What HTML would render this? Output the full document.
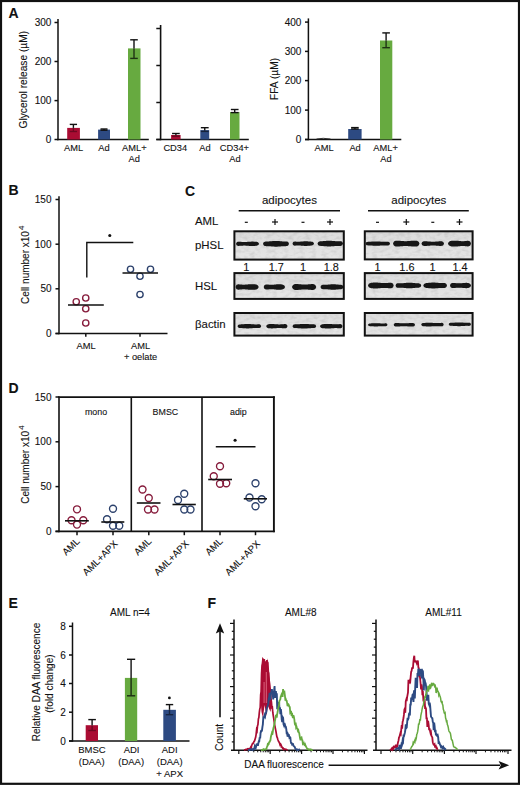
<!DOCTYPE html>
<html><head><meta charset="utf-8"><style>
html,body{margin:0;padding:0;background:#fff;}
svg{display:block;}
text{font-family:"Liberation Sans",sans-serif;fill:#111;stroke:#111;stroke-width:0.1px;}
</style></head><body>
<svg width="520" height="785" viewBox="0 0 520 785">
<defs>
<linearGradient id="gg" x1="0" y1="0" x2="0" y2="1"><stop offset="0" stop-color="#dcdcdc"/><stop offset="1" stop-color="#e6e6e6"/></linearGradient>
<filter id="nz" x="0" y="0" width="100%" height="100%"><feTurbulence type="fractalNoise" baseFrequency="0.18 0.3" numOctaves="2" seed="4"/><feColorMatrix type="matrix" values="0 0 0 0 0  0 0 0 0 0  0 0 0 0 0  2.2 0 0 0 -0.9"/></filter>
<filter id="bl" x="-20%" y="-100%" width="140%" height="300%"><feGaussianBlur stdDeviation="0.55"/></filter>
</defs>
<rect x="0" y="0" width="520" height="785" fill="#fff"/>
<rect x="1" y="1" width="518" height="782.8" fill="none" stroke="#111" stroke-width="2.2"/>
<text x="8.5" y="17.8" font-size="14" text-anchor="start" font-weight="bold" >A</text>
<line x1="58" y1="19" x2="58" y2="140.2" stroke="#111" stroke-width="1.5"/>
<line x1="54.5" y1="139.5" x2="58" y2="139.5" stroke="#111" stroke-width="1.5"/>
<text x="51.4" y="143.0" font-size="10" text-anchor="end" font-weight="normal" >0</text>
<line x1="54.5" y1="100.6" x2="58" y2="100.6" stroke="#111" stroke-width="1.5"/>
<text x="51.4" y="104.1" font-size="10" text-anchor="end" font-weight="normal" >100</text>
<line x1="54.5" y1="61.5" x2="58" y2="61.5" stroke="#111" stroke-width="1.5"/>
<text x="51.4" y="65.0" font-size="10" text-anchor="end" font-weight="normal" >200</text>
<line x1="54.5" y1="22.5" x2="58" y2="22.5" stroke="#111" stroke-width="1.5"/>
<text x="51.4" y="26.0" font-size="10" text-anchor="end" font-weight="normal" >300</text>
<line x1="57.3" y1="139.5" x2="148.8" y2="139.5" stroke="#111" stroke-width="1.5"/>
<rect x="67.2" y="127.9" width="12.7" height="11.6" fill="#aa0c33"/>
<line x1="73.4" y1="124.4" x2="73.4" y2="127.9" stroke="#111" stroke-width="1.4"/>
<line x1="69.75" y1="124.4" x2="77.05000000000001" y2="124.4" stroke="#111" stroke-width="1.4"/>
<g opacity="0.35">
<line x1="73.4" y1="127.9" x2="73.4" y2="131.5" stroke="#000" stroke-width="1.4"/>
<line x1="69.75" y1="131.5" x2="77.05000000000001" y2="131.5" stroke="#000" stroke-width="1.4"/>
</g>
<rect x="98.1" y="129.6" width="11.9" height="9.9" fill="#2d4a82"/>
<line x1="104" y1="129.0" x2="104" y2="130.2" stroke="#111" stroke-width="1.4"/>
<line x1="100.5" y1="129.0" x2="107.5" y2="129.0" stroke="#111" stroke-width="1.4"/>
<line x1="100.5" y1="130.2" x2="107.5" y2="130.2" stroke="#111" stroke-width="1.4"/>
<rect x="128" y="48.4" width="12.5" height="91.1" fill="#67aa40"/>
<line x1="134" y1="39.8" x2="134" y2="48.4" stroke="#111" stroke-width="1.4"/>
<line x1="130.2" y1="39.8" x2="137.8" y2="39.8" stroke="#111" stroke-width="1.4"/>
<g opacity="0.7">
<line x1="134" y1="48.4" x2="134" y2="58.4" stroke="#000" stroke-width="1.4"/>
<line x1="130.2" y1="58.4" x2="137.8" y2="58.4" stroke="#000" stroke-width="1.4"/>
</g>
<text x="73.5" y="151.2" font-size="9.3" text-anchor="middle" font-weight="normal" >AML</text>
<text x="104" y="151.2" font-size="9.3" text-anchor="middle" font-weight="normal" >Ad</text>
<text x="134.3" y="151.2" font-size="9.3" text-anchor="middle" font-weight="normal" >AML+</text>
<text x="134.3" y="162.4" font-size="9.3" text-anchor="middle" font-weight="normal" >Ad</text>
<text x="26.6" y="79.7" font-size="10.2" text-anchor="middle" transform="rotate(-90 26.6 79.7)">Glycerol release (µM)</text>
<line x1="160.6" y1="25" x2="160.6" y2="140.2" stroke="#111" stroke-width="1.6"/>
<line x1="156.3" y1="139.5" x2="160.6" y2="139.5" stroke="#111" stroke-width="1.5"/>
<line x1="156.3" y1="102.5" x2="160.6" y2="102.5" stroke="#111" stroke-width="1.5"/>
<line x1="156.3" y1="65.5" x2="160.6" y2="65.5" stroke="#111" stroke-width="1.5"/>
<line x1="156.3" y1="28.5" x2="160.6" y2="28.5" stroke="#111" stroke-width="1.5"/>
<line x1="156.3" y1="139.5" x2="248.8" y2="139.5" stroke="#111" stroke-width="1.5"/>
<rect x="171.1" y="135" width="9.5" height="4.5" fill="#aa0c33"/>
<line x1="175.9" y1="133.5" x2="175.9" y2="135" stroke="#111" stroke-width="1.4"/>
<line x1="172.05" y1="133.5" x2="179.75" y2="133.5" stroke="#111" stroke-width="1.4"/>
<g opacity="0.4">
<line x1="175.9" y1="135" x2="175.9" y2="136.2" stroke="#000" stroke-width="1.4"/>
<line x1="172.05" y1="136.2" x2="179.75" y2="136.2" stroke="#000" stroke-width="1.4"/>
</g>
<rect x="200.3" y="130.1" width="8.9" height="9.4" fill="#2d4a82"/>
<line x1="204.75" y1="127.7" x2="204.75" y2="130.1" stroke="#111" stroke-width="1.4"/>
<line x1="200.85" y1="127.7" x2="208.65" y2="127.7" stroke="#111" stroke-width="1.4"/>
<g opacity="0.55">
<line x1="204.75" y1="130.1" x2="204.75" y2="131.4" stroke="#000" stroke-width="1.4"/>
<line x1="200.85" y1="131.4" x2="208.65" y2="131.4" stroke="#000" stroke-width="1.4"/>
</g>
<rect x="230" y="112" width="9.5" height="27.5" fill="#67aa40"/>
<line x1="234.7" y1="109.5" x2="234.7" y2="112.6" stroke="#111" stroke-width="1.4"/>
<line x1="230.85" y1="109.5" x2="238.54999999999998" y2="109.5" stroke="#111" stroke-width="1.4"/>
<line x1="230.85" y1="112.6" x2="238.54999999999998" y2="112.6" stroke="#111" stroke-width="1.4"/>
<text x="175.3" y="151.2" font-size="9.3" text-anchor="middle" font-weight="normal" >CD34</text>
<text x="205" y="151.2" font-size="9.3" text-anchor="middle" font-weight="normal" >Ad</text>
<text x="234.4" y="151.2" font-size="9.3" text-anchor="middle" font-weight="normal" >CD34+</text>
<text x="235" y="162.4" font-size="9.3" text-anchor="middle" font-weight="normal" >Ad</text>
<line x1="308.4" y1="18.4" x2="308.4" y2="140.2" stroke="#111" stroke-width="1.5"/>
<line x1="305" y1="139.5" x2="308.6" y2="139.5" stroke="#111" stroke-width="1.5"/>
<text x="301.4" y="143.0" font-size="10" text-anchor="end" font-weight="normal" >0</text>
<line x1="305" y1="110.1" x2="308.6" y2="110.1" stroke="#111" stroke-width="1.5"/>
<text x="301.4" y="113.6" font-size="10" text-anchor="end" font-weight="normal" >100</text>
<line x1="305" y1="80.6" x2="308.6" y2="80.6" stroke="#111" stroke-width="1.5"/>
<text x="301.4" y="84.1" font-size="10" text-anchor="end" font-weight="normal" >200</text>
<line x1="305" y1="51.4" x2="308.6" y2="51.4" stroke="#111" stroke-width="1.5"/>
<text x="301.4" y="54.9" font-size="10" text-anchor="end" font-weight="normal" >300</text>
<line x1="305" y1="22.1" x2="308.6" y2="22.1" stroke="#111" stroke-width="1.5"/>
<text x="301.4" y="25.6" font-size="10" text-anchor="end" font-weight="normal" >400</text>
<line x1="305" y1="139.5" x2="401.3" y2="139.5" stroke="#111" stroke-width="1.5"/>
<path d="M316.5,139 Q323,137.6 330.5,139" stroke="#222" stroke-width="0.9" fill="none"/>
<rect x="348.2" y="129" width="13.4" height="10.5" fill="#2d4a82"/>
<line x1="354.9" y1="127.6" x2="354.9" y2="129" stroke="#111" stroke-width="1.4"/>
<line x1="351.09999999999997" y1="127.6" x2="358.7" y2="127.6" stroke="#111" stroke-width="1.4"/>
<line x1="351.09999999999997" y1="129" x2="358.7" y2="129" stroke="#111" stroke-width="1.4"/>
<rect x="380" y="40.5" width="12.3" height="99" fill="#67aa40"/>
<line x1="386.1" y1="32.9" x2="386.1" y2="40.5" stroke="#111" stroke-width="1.4"/>
<line x1="382.3" y1="32.9" x2="389.90000000000003" y2="32.9" stroke="#111" stroke-width="1.4"/>
<g opacity="0.7">
<line x1="386.1" y1="40.5" x2="386.1" y2="47.7" stroke="#000" stroke-width="1.4"/>
<line x1="382.3" y1="47.7" x2="389.90000000000003" y2="47.7" stroke="#000" stroke-width="1.4"/>
</g>
<text x="324" y="151.2" font-size="9.3" text-anchor="middle" font-weight="normal" >AML</text>
<text x="355.1" y="151.2" font-size="9.3" text-anchor="middle" font-weight="normal" >Ad</text>
<text x="385.6" y="151.2" font-size="9.3" text-anchor="middle" font-weight="normal" >AML+</text>
<text x="386" y="162.4" font-size="9.3" text-anchor="middle" font-weight="normal" >Ad</text>
<text x="277.5" y="79" font-size="10.2" text-anchor="middle" transform="rotate(-90 277.5 79)">FFA (µM)</text>
<text x="8.6" y="195.4" font-size="14" text-anchor="start" font-weight="bold" >B</text>
<line x1="59" y1="196.2" x2="59" y2="334.2" stroke="#111" stroke-width="1.5"/>
<line x1="55.5" y1="333.5" x2="59" y2="333.5" stroke="#111" stroke-width="1.5"/>
<text x="51.5" y="337.0" font-size="10" text-anchor="end" font-weight="normal" >0</text>
<line x1="55.5" y1="288.8" x2="59" y2="288.8" stroke="#111" stroke-width="1.5"/>
<text x="51.5" y="292.3" font-size="10" text-anchor="end" font-weight="normal" >50</text>
<line x1="55.5" y1="244.2" x2="59" y2="244.2" stroke="#111" stroke-width="1.5"/>
<text x="51.5" y="247.7" font-size="10" text-anchor="end" font-weight="normal" >100</text>
<line x1="55.5" y1="199.5" x2="59" y2="199.5" stroke="#111" stroke-width="1.5"/>
<text x="51.5" y="203.0" font-size="10" text-anchor="end" font-weight="normal" >150</text>
<line x1="55.5" y1="333.5" x2="167.5" y2="333.5" stroke="#111" stroke-width="1.5"/>
<line x1="85.8" y1="333.5" x2="85.8" y2="336.8" stroke="#111" stroke-width="1.5"/>
<line x1="140" y1="333.5" x2="140" y2="336.8" stroke="#111" stroke-width="1.5"/>
<circle cx="76.25" cy="301.75" r="3.15" fill="none" stroke="#861b3b" stroke-width="1.35"/>
<circle cx="85.75" cy="298" r="3.15" fill="none" stroke="#861b3b" stroke-width="1.35"/>
<circle cx="85.75" cy="308.75" r="3.15" fill="none" stroke="#861b3b" stroke-width="1.35"/>
<circle cx="85.75" cy="323" r="3.15" fill="none" stroke="#861b3b" stroke-width="1.35"/>
<line x1="68" y1="305" x2="103.8" y2="305" stroke="#111" stroke-width="1.6"/>
<circle cx="130.5" cy="269.25" r="3.15" fill="none" stroke="#2c416c" stroke-width="1.35"/>
<circle cx="140" cy="276.25" r="3.15" fill="none" stroke="#2c416c" stroke-width="1.35"/>
<circle cx="150.5" cy="269.25" r="3.15" fill="none" stroke="#2c416c" stroke-width="1.35"/>
<circle cx="140" cy="294.5" r="3.15" fill="none" stroke="#2c416c" stroke-width="1.35"/>
<line x1="122.5" y1="273" x2="158" y2="273" stroke="#111" stroke-width="1.6"/>
<polyline points="86.8,277.5 86.8,242.5 133.3,242.5" fill="none" stroke="#111" stroke-width="1.4"/>
<circle cx="109.8" cy="235.5" r="1.55" fill="#111"/>
<text x="86" y="349.3" font-size="9.3" text-anchor="middle" font-weight="normal" >AML</text>
<text x="140.6" y="349.3" font-size="9.3" text-anchor="middle" font-weight="normal" >AML</text>
<text x="140.6" y="360.3" font-size="9.3" text-anchor="middle" font-weight="normal" >+ oelate</text>
<text x="28.6" y="303.9" font-size="10" transform="rotate(-90 28.6 303.9)">Cell number x10<tspan font-size="7.8" dx="1.2" dy="-4.6">4</tspan></text>
<text x="185.1" y="195.9" font-size="14" text-anchor="start" font-weight="bold" >C</text>
<text x="195" y="225.2" font-size="11.4" text-anchor="start" font-weight="normal" >AML</text>
<text x="195" y="248.5" font-size="11.4" text-anchor="start" font-weight="normal" >pHSL</text>
<text x="195" y="290.2" font-size="11.4" text-anchor="start" font-weight="normal" >HSL</text>
<text x="195" y="327.8" font-size="11.4" text-anchor="start" font-weight="normal" >βactin</text>
<text x="289.4" y="204.4" font-size="11.5" text-anchor="middle" font-weight="normal" >adipocytes</text>
<line x1="238.7" y1="210.8" x2="340" y2="210.8" stroke="#111" stroke-width="1.6"/>
<text x="418.8" y="204.4" font-size="11.5" text-anchor="middle" font-weight="normal" >adipocytes</text>
<line x1="368" y1="210.8" x2="468.8" y2="210.8" stroke="#111" stroke-width="1.6"/>
<line x1="244.8" y1="222.3" x2="247.8" y2="222.3" stroke="#111" stroke-width="1.2"/>
<line x1="272" y1="222" x2="278" y2="222" stroke="#111" stroke-width="1.2"/>
<line x1="275" y1="219" x2="275" y2="225" stroke="#111" stroke-width="1.2"/>
<line x1="301.5" y1="222.3" x2="304.5" y2="222.3" stroke="#111" stroke-width="1.2"/>
<line x1="327" y1="222" x2="333" y2="222" stroke="#111" stroke-width="1.2"/>
<line x1="330" y1="219" x2="330" y2="225" stroke="#111" stroke-width="1.2"/>
<line x1="376.0" y1="222.3" x2="379.0" y2="222.3" stroke="#111" stroke-width="1.2"/>
<line x1="403.3" y1="222" x2="409.3" y2="222" stroke="#111" stroke-width="1.2"/>
<line x1="406.3" y1="219" x2="406.3" y2="225" stroke="#111" stroke-width="1.2"/>
<line x1="431.3" y1="222.3" x2="434.3" y2="222.3" stroke="#111" stroke-width="1.2"/>
<line x1="456.5" y1="222" x2="462.5" y2="222" stroke="#111" stroke-width="1.2"/>
<line x1="459.5" y1="219" x2="459.5" y2="225" stroke="#111" stroke-width="1.2"/>
<rect x="234.4" y="231.3" width="109.4" height="28.30000000000001" fill="url(#gg)"/>
<rect x="234.4" y="231.3" width="109.4" height="28.30000000000001" fill="#000" filter="url(#nz)" opacity="0.08"/>
<rect x="234.4" y="231.3" width="109.4" height="28.30000000000001" fill="none" stroke="#111" stroke-width="2"/>
<polygon points="236.00,243.80 236.57,242.42 237.15,241.99 237.72,241.76 238.30,241.68 238.88,241.70 239.45,241.74 240.03,241.79 240.60,241.83 241.18,241.87 241.75,241.91 242.32,241.95 242.90,241.97 243.47,241.99 244.05,242.00 244.62,242.00 245.20,241.99 245.78,241.96 246.35,241.93 246.93,241.90 247.50,241.86 248.07,241.81 248.65,241.77 249.22,241.72 249.80,241.69 250.38,241.65 250.95,241.63 251.53,241.61 252.10,241.60 252.68,241.60 253.25,241.62 253.82,241.64 254.40,241.67 254.97,241.70 255.55,241.74 256.12,241.79 256.70,241.85 257.27,241.99 257.85,242.24 258.43,242.64 259.00,243.80 259.00,243.80 258.43,244.96 257.85,245.36 257.27,245.61 256.70,245.75 256.12,245.81 255.55,245.86 254.97,245.90 254.40,245.93 253.82,245.96 253.25,245.98 252.68,246.00 252.10,246.00 251.53,245.99 250.95,245.97 250.38,245.95 249.80,245.91 249.22,245.88 248.65,245.83 248.07,245.79 247.50,245.74 246.93,245.70 246.35,245.67 245.78,245.64 245.20,245.61 244.62,245.60 244.05,245.60 243.47,245.61 242.90,245.63 242.32,245.65 241.75,245.69 241.18,245.73 240.60,245.77 240.03,245.81 239.45,245.86 238.88,245.90 238.30,245.92 237.72,245.84 237.15,245.61 236.57,245.18 236.00,243.80" fill="#141414" filter="url(#bl)"/>
<polygon points="263.00,243.80 263.65,242.34 264.30,241.89 264.95,241.64 265.60,241.50 266.25,241.46 266.90,241.46 267.55,241.45 268.20,241.43 268.85,241.39 269.50,241.35 270.15,241.30 270.80,241.24 271.45,241.18 272.10,241.13 272.75,241.07 273.40,241.03 274.05,240.99 274.70,240.96 275.35,240.94 276.00,240.94 276.65,240.95 277.30,240.97 277.95,241.01 278.60,241.05 279.25,241.10 279.90,241.16 280.55,241.22 281.20,241.28 281.85,241.33 282.50,241.38 283.15,241.41 283.80,241.44 284.45,241.46 285.10,241.46 285.75,241.45 286.40,241.49 287.05,241.62 287.70,241.87 288.35,242.32 289.00,243.80 289.00,243.80 288.35,245.28 287.70,245.73 287.05,245.98 286.40,246.11 285.75,246.15 285.10,246.14 284.45,246.14 283.80,246.16 283.15,246.19 282.50,246.22 281.85,246.27 281.20,246.32 280.55,246.38 279.90,246.44 279.25,246.50 278.60,246.55 277.95,246.59 277.30,246.63 276.65,246.65 276.00,246.66 275.35,246.66 274.70,246.64 274.05,246.61 273.40,246.57 272.75,246.53 272.10,246.47 271.45,246.42 270.80,246.36 270.15,246.30 269.50,246.25 268.85,246.21 268.20,246.17 267.55,246.15 266.90,246.14 266.25,246.14 265.60,246.10 264.95,245.96 264.30,245.71 263.65,245.26 263.00,243.80" fill="#141414" filter="url(#bl)"/>
<polygon points="292.50,243.60 293.04,242.28 293.57,241.87 294.11,241.66 294.65,241.56 295.19,241.56 295.73,241.61 296.26,241.64 296.80,241.67 297.34,241.70 297.88,241.71 298.41,241.71 298.95,241.70 299.49,241.68 300.02,241.65 300.56,241.62 301.10,241.57 301.64,241.53 302.18,241.48 302.71,241.43 303.25,241.39 303.79,241.35 304.32,241.32 304.86,241.30 305.40,241.29 305.94,241.29 306.48,241.30 307.01,241.32 307.55,241.35 308.09,241.39 308.62,241.43 309.16,241.47 309.70,241.52 310.24,241.57 310.77,241.61 311.31,241.65 311.85,241.72 312.39,241.86 312.93,242.10 313.46,242.47 314.00,243.60 314.00,243.60 313.46,244.73 312.93,245.10 312.39,245.34 311.85,245.48 311.31,245.55 310.77,245.59 310.24,245.63 309.70,245.68 309.16,245.73 308.62,245.77 308.09,245.81 307.55,245.85 307.01,245.88 306.48,245.90 305.94,245.91 305.40,245.91 304.86,245.90 304.32,245.88 303.79,245.85 303.25,245.81 302.71,245.77 302.18,245.72 301.64,245.67 301.10,245.63 300.56,245.58 300.02,245.55 299.49,245.52 298.95,245.50 298.41,245.49 297.88,245.49 297.34,245.50 296.80,245.53 296.26,245.56 295.73,245.59 295.19,245.64 294.65,245.64 294.11,245.54 293.57,245.33 293.04,244.92 292.50,243.60" fill="#141414" filter="url(#bl)"/>
<polygon points="317.50,243.60 318.14,242.20 318.77,241.75 319.41,241.49 320.05,241.33 320.69,241.26 321.32,241.24 321.96,241.21 322.60,241.17 323.24,241.12 323.88,241.06 324.51,241.00 325.15,240.95 325.79,240.89 326.43,240.84 327.06,240.80 327.70,240.77 328.34,240.75 328.98,240.74 329.61,240.75 330.25,240.76 330.89,240.80 331.52,240.84 332.16,240.89 332.80,240.94 333.44,241.00 334.07,241.06 334.71,241.11 335.35,241.16 335.99,241.20 336.62,241.23 337.26,241.25 337.90,241.26 338.54,241.25 339.18,241.23 339.81,241.21 340.45,241.24 341.09,241.36 341.73,241.61 342.36,242.08 343.00,243.60 343.00,243.60 342.36,245.12 341.73,245.59 341.09,245.84 340.45,245.96 339.81,245.99 339.18,245.97 338.54,245.95 337.90,245.94 337.26,245.95 336.62,245.97 335.99,246.00 335.35,246.04 334.71,246.09 334.07,246.14 333.44,246.20 332.80,246.26 332.16,246.31 331.52,246.36 330.89,246.40 330.25,246.44 329.61,246.45 328.98,246.46 328.34,246.45 327.70,246.43 327.06,246.40 326.43,246.36 325.79,246.31 325.15,246.25 324.51,246.20 323.88,246.14 323.24,246.08 322.60,246.03 321.96,245.99 321.32,245.96 320.69,245.94 320.05,245.87 319.41,245.71 318.77,245.45 318.14,245.00 317.50,243.60" fill="#141414" filter="url(#bl)"/>
<rect x="364.8" y="231.3" width="107.80000000000001" height="28.099999999999966" fill="url(#gg)"/>
<rect x="364.8" y="231.3" width="107.80000000000001" height="28.099999999999966" fill="#000" filter="url(#nz)" opacity="0.08"/>
<rect x="364.8" y="231.3" width="107.80000000000001" height="28.099999999999966" fill="none" stroke="#111" stroke-width="2"/>
<polygon points="365.50,243.60 366.11,242.42 366.73,242.06 367.34,241.88 367.95,241.80 368.56,241.79 369.18,241.77 369.79,241.74 370.40,241.71 371.01,241.66 371.62,241.62 372.24,241.58 372.85,241.53 373.46,241.49 374.07,241.46 374.69,241.43 375.30,241.41 375.91,241.40 376.52,241.40 377.14,241.41 377.75,241.43 378.36,241.46 378.98,241.50 379.59,241.54 380.20,241.58 380.81,241.63 381.43,241.67 382.04,241.71 382.65,241.74 383.26,241.77 383.88,241.79 384.49,241.80 385.10,241.80 385.71,241.79 386.32,241.77 386.94,241.74 387.55,241.71 388.16,241.75 388.77,241.92 389.39,242.29 390.00,243.60 390.00,243.60 389.39,244.91 388.77,245.28 388.16,245.45 387.55,245.49 386.94,245.46 386.32,245.43 385.71,245.41 385.10,245.40 384.49,245.40 383.88,245.41 383.26,245.43 382.65,245.46 382.04,245.49 381.43,245.53 380.81,245.57 380.20,245.62 379.59,245.66 378.98,245.70 378.36,245.74 377.75,245.77 377.14,245.79 376.52,245.80 375.91,245.80 375.30,245.79 374.69,245.77 374.07,245.74 373.46,245.71 372.85,245.67 372.24,245.62 371.62,245.58 371.01,245.54 370.40,245.49 369.79,245.46 369.18,245.43 368.56,245.41 367.95,245.40 367.34,245.32 366.73,245.14 366.11,244.78 365.50,243.60" fill="#141414" filter="url(#bl)"/>
<polygon points="393.00,243.60 393.66,241.93 394.32,241.33 394.99,240.95 395.65,240.73 396.31,240.63 396.98,240.63 397.64,240.65 398.30,240.68 398.96,240.73 399.62,240.78 400.29,240.83 400.95,240.89 401.61,240.95 402.27,241.01 402.94,241.06 403.60,241.11 404.26,241.14 404.93,241.16 405.59,241.17 406.25,241.16 406.91,241.15 407.57,241.12 408.24,241.07 408.90,241.02 409.56,240.97 410.23,240.91 410.89,240.85 411.55,240.79 412.21,240.74 412.88,240.69 413.54,240.66 414.20,240.64 414.86,240.63 415.52,240.64 416.19,240.66 416.85,240.78 417.51,241.01 418.18,241.39 418.84,241.98 419.50,243.60 419.50,243.60 418.84,245.22 418.18,245.81 417.51,246.19 416.85,246.42 416.19,246.54 415.52,246.56 414.86,246.57 414.20,246.56 413.54,246.54 412.88,246.51 412.21,246.46 411.55,246.41 410.89,246.35 410.23,246.29 409.56,246.23 408.90,246.18 408.24,246.13 407.57,246.08 406.91,246.05 406.25,246.04 405.59,246.03 404.93,246.04 404.26,246.06 403.60,246.09 402.94,246.14 402.27,246.19 401.61,246.25 400.95,246.31 400.29,246.37 399.62,246.42 398.96,246.47 398.30,246.52 397.64,246.55 396.98,246.57 396.31,246.57 395.65,246.47 394.99,246.25 394.32,245.87 393.66,245.27 393.00,243.60" fill="#141414" filter="url(#bl)"/>
<polygon points="421.50,243.60 422.06,242.28 422.62,241.81 423.19,241.53 423.75,241.36 424.31,241.30 424.88,241.29 425.44,241.29 426.00,241.30 426.56,241.32 427.12,241.35 427.69,241.38 428.25,241.43 428.81,241.47 429.38,241.52 429.94,241.57 430.50,241.61 431.06,241.65 431.62,241.68 432.19,241.70 432.75,241.71 433.31,241.71 433.88,241.70 434.44,241.68 435.00,241.65 435.56,241.61 436.12,241.57 436.69,241.53 437.25,241.48 437.81,241.43 438.38,241.39 438.94,241.35 439.50,241.32 440.06,241.30 440.62,241.29 441.19,241.29 441.75,241.34 442.31,241.49 442.88,241.78 443.44,242.25 444.00,243.60 444.00,243.60 443.44,244.95 442.88,245.42 442.31,245.71 441.75,245.86 441.19,245.91 440.62,245.91 440.06,245.90 439.50,245.88 438.94,245.85 438.38,245.81 437.81,245.77 437.25,245.72 436.69,245.67 436.12,245.63 435.56,245.59 435.00,245.55 434.44,245.52 433.88,245.50 433.31,245.49 432.75,245.49 432.19,245.50 431.62,245.52 431.06,245.55 430.50,245.59 429.94,245.63 429.38,245.68 428.81,245.73 428.25,245.77 427.69,245.82 427.12,245.85 426.56,245.88 426.00,245.90 425.44,245.91 424.88,245.91 424.31,245.90 423.75,245.84 423.19,245.67 422.62,245.39 422.06,244.92 421.50,243.60" fill="#141414" filter="url(#bl)"/>
<polygon points="448.00,243.60 448.57,242.23 449.15,241.71 449.73,241.35 450.30,241.10 450.88,240.92 451.45,240.81 452.02,240.76 452.60,240.71 453.18,240.67 453.75,240.65 454.32,240.63 454.90,240.63 455.48,240.64 456.05,240.67 456.62,240.71 457.20,240.76 457.77,240.81 458.35,240.87 458.93,240.93 459.50,240.99 460.07,241.04 460.65,241.09 461.23,241.13 461.80,241.15 462.38,241.17 462.95,241.17 463.52,241.15 464.10,241.13 464.68,241.09 465.25,241.04 465.82,240.99 466.40,240.93 466.98,240.87 467.55,240.81 468.12,240.80 468.70,240.88 469.27,241.08 469.85,241.41 470.43,241.97 471.00,243.60 471.00,243.60 470.43,245.23 469.85,245.79 469.27,246.12 468.70,246.32 468.12,246.40 467.55,246.39 466.98,246.33 466.40,246.27 465.82,246.21 465.25,246.16 464.68,246.11 464.10,246.07 463.52,246.05 462.95,246.03 462.38,246.03 461.80,246.05 461.23,246.07 460.65,246.11 460.07,246.16 459.50,246.21 458.93,246.27 458.35,246.33 457.77,246.39 457.20,246.44 456.62,246.49 456.05,246.53 455.48,246.56 454.90,246.57 454.32,246.57 453.75,246.55 453.18,246.53 452.60,246.49 452.02,246.44 451.45,246.39 450.88,246.28 450.30,246.10 449.73,245.85 449.15,245.49 448.57,244.97 448.00,243.60" fill="#141414" filter="url(#bl)"/>
<rect x="234.4" y="273.1" width="109.4" height="25.799999999999955" fill="url(#gg)"/>
<rect x="234.4" y="273.1" width="109.4" height="25.799999999999955" fill="#000" filter="url(#nz)" opacity="0.08"/>
<rect x="234.4" y="273.1" width="109.4" height="25.799999999999955" fill="none" stroke="#111" stroke-width="2"/>
<polygon points="235.50,287.00 236.08,285.40 236.66,284.87 237.24,284.56 237.82,284.39 238.40,284.33 238.98,284.36 239.56,284.42 240.14,284.47 240.72,284.53 241.30,284.57 241.88,284.61 242.46,284.64 243.04,284.66 243.62,284.66 244.20,284.65 244.78,284.63 245.36,284.59 245.94,284.55 246.52,284.50 247.10,284.44 247.68,284.38 248.26,284.32 248.84,284.27 249.42,284.22 250.00,284.19 250.58,284.16 251.16,284.14 251.74,284.14 252.32,284.15 252.90,284.17 253.48,284.21 254.06,284.25 254.64,284.31 255.22,284.36 255.80,284.45 256.38,284.61 256.96,284.84 257.54,285.17 258.12,285.66 258.70,287.00 258.70,287.00 258.12,288.34 257.54,288.83 256.96,289.16 256.38,289.39 255.80,289.55 255.22,289.64 254.64,289.69 254.06,289.75 253.48,289.79 252.90,289.83 252.32,289.85 251.74,289.86 251.16,289.86 250.58,289.84 250.00,289.81 249.42,289.78 248.84,289.73 248.26,289.68 247.68,289.62 247.10,289.56 246.52,289.50 245.94,289.45 245.36,289.41 244.78,289.37 244.20,289.35 243.62,289.34 243.04,289.34 242.46,289.36 241.88,289.39 241.30,289.43 240.72,289.47 240.14,289.53 239.56,289.58 238.98,289.64 238.40,289.67 237.82,289.61 237.24,289.44 236.66,289.13 236.08,288.60 235.50,287.00" fill="#141414" filter="url(#bl)"/>
<polygon points="263.70,287.00 264.23,285.49 264.76,284.98 265.30,284.67 265.83,284.49 266.36,284.41 266.89,284.42 267.43,284.48 267.96,284.53 268.49,284.59 269.02,284.64 269.56,284.68 270.09,284.71 270.62,284.74 271.15,284.75 271.69,284.75 272.22,284.73 272.75,284.71 273.28,284.67 273.82,284.63 274.35,284.58 274.88,284.52 275.42,284.47 275.95,284.41 276.48,284.36 277.01,284.32 277.55,284.28 278.08,284.26 278.61,284.25 279.14,284.25 279.68,284.27 280.21,284.29 280.74,284.33 281.27,284.37 281.81,284.43 282.34,284.52 282.87,284.69 283.40,284.93 283.94,285.25 284.47,285.73 285.00,287.00 285.00,287.00 284.47,288.27 283.94,288.75 283.40,289.07 282.87,289.31 282.34,289.48 281.81,289.57 281.27,289.63 280.74,289.67 280.21,289.71 279.68,289.73 279.14,289.75 278.61,289.75 278.08,289.74 277.55,289.72 277.01,289.68 276.48,289.64 275.95,289.59 275.42,289.53 274.88,289.48 274.35,289.42 273.82,289.37 273.28,289.33 272.75,289.29 272.22,289.27 271.69,289.25 271.15,289.25 270.62,289.26 270.09,289.29 269.56,289.32 269.02,289.36 268.49,289.41 267.96,289.47 267.43,289.52 266.89,289.58 266.36,289.59 265.83,289.51 265.30,289.33 264.76,289.02 264.23,288.51 263.70,287.00" fill="#141414" filter="url(#bl)"/>
<polygon points="292.00,287.00 292.61,285.46 293.21,284.88 293.81,284.49 294.42,284.24 295.02,284.09 295.63,284.04 296.24,284.03 296.84,284.04 297.44,284.05 298.05,284.08 298.65,284.13 299.26,284.18 299.87,284.23 300.47,284.29 301.07,284.35 301.68,284.41 302.28,284.46 302.89,284.51 303.50,284.54 304.10,284.56 304.70,284.57 305.31,284.56 305.91,284.55 306.52,284.51 307.12,284.47 307.73,284.42 308.33,284.36 308.94,284.30 309.55,284.24 310.15,284.19 310.75,284.13 311.36,284.09 311.96,284.06 312.57,284.04 313.18,284.06 313.78,284.18 314.38,284.42 314.99,284.80 315.59,285.39 316.20,287.00 316.20,287.00 315.59,288.61 314.99,289.20 314.38,289.58 313.78,289.82 313.18,289.94 312.57,289.96 311.96,289.94 311.36,289.91 310.75,289.87 310.15,289.81 309.55,289.76 308.94,289.70 308.33,289.64 307.73,289.58 307.12,289.53 306.52,289.49 305.91,289.45 305.31,289.44 304.70,289.43 304.10,289.44 303.50,289.46 302.89,289.49 302.28,289.54 301.68,289.59 301.07,289.65 300.47,289.71 299.87,289.77 299.26,289.82 298.65,289.87 298.05,289.92 297.44,289.95 296.84,289.96 296.24,289.97 295.63,289.96 295.02,289.91 294.42,289.76 293.81,289.51 293.21,289.12 292.61,288.54 292.00,287.00" fill="#141414" filter="url(#bl)"/>
<polygon points="320.50,287.00 321.07,285.59 321.65,285.14 322.23,284.90 322.80,284.77 323.38,284.72 323.95,284.73 324.52,284.75 325.10,284.75 325.68,284.74 326.25,284.72 326.82,284.69 327.40,284.65 327.98,284.60 328.55,284.54 329.12,284.49 329.70,284.43 330.27,284.38 330.85,284.34 331.43,284.30 332.00,284.27 332.57,284.25 333.15,284.25 333.73,284.26 334.30,284.28 334.88,284.31 335.45,284.35 336.02,284.40 336.60,284.46 337.18,284.51 337.75,284.57 338.32,284.62 338.90,284.67 339.48,284.70 340.05,284.73 340.62,284.76 341.20,284.85 341.77,285.00 342.35,285.26 342.93,285.69 343.50,287.00 343.50,287.00 342.93,288.31 342.35,288.74 341.77,289.00 341.20,289.15 340.62,289.24 340.05,289.27 339.48,289.30 338.90,289.33 338.32,289.38 337.75,289.43 337.18,289.49 336.60,289.54 336.02,289.60 335.45,289.65 334.88,289.69 334.30,289.72 333.73,289.74 333.15,289.75 332.57,289.75 332.00,289.73 331.43,289.70 330.85,289.66 330.27,289.62 329.70,289.57 329.12,289.51 328.55,289.46 327.98,289.40 327.40,289.35 326.82,289.31 326.25,289.28 325.68,289.26 325.10,289.25 324.52,289.25 323.95,289.27 323.38,289.28 322.80,289.23 322.23,289.10 321.65,288.86 321.07,288.41 320.50,287.00" fill="#141414" filter="url(#bl)"/>
<rect x="364.8" y="273.1" width="107.80000000000001" height="25.799999999999955" fill="url(#gg)"/>
<rect x="364.8" y="273.1" width="107.80000000000001" height="25.799999999999955" fill="#000" filter="url(#nz)" opacity="0.08"/>
<rect x="364.8" y="273.1" width="107.80000000000001" height="25.799999999999955" fill="none" stroke="#111" stroke-width="2"/>
<polygon points="368.00,285.50 368.64,284.06 369.29,283.53 369.93,283.17 370.57,282.93 371.21,282.78 371.86,282.72 372.50,282.66 373.14,282.61 373.78,282.57 374.43,282.55 375.07,282.53 375.71,282.53 376.35,282.54 377.00,282.57 377.64,282.61 378.28,282.65 378.92,282.71 379.56,282.77 380.21,282.83 380.85,282.89 381.49,282.94 382.13,282.99 382.78,283.03 383.42,283.05 384.06,283.07 384.70,283.07 385.35,283.06 385.99,283.03 386.63,282.99 387.27,282.94 387.92,282.89 388.56,282.83 389.20,282.77 389.84,282.71 390.49,282.67 391.13,282.71 391.77,282.89 392.41,283.21 393.06,283.79 393.70,285.50 393.70,285.50 393.06,287.21 392.41,287.79 391.77,288.11 391.13,288.29 390.49,288.33 389.84,288.29 389.20,288.23 388.56,288.17 387.92,288.11 387.27,288.06 386.63,288.01 385.99,287.97 385.35,287.94 384.70,287.93 384.06,287.93 383.42,287.95 382.78,287.97 382.13,288.01 381.49,288.06 380.85,288.11 380.21,288.17 379.56,288.23 378.92,288.29 378.28,288.35 377.64,288.39 377.00,288.43 376.35,288.46 375.71,288.47 375.07,288.47 374.43,288.45 373.78,288.43 373.14,288.39 372.50,288.34 371.86,288.28 371.21,288.22 370.57,288.07 369.93,287.83 369.29,287.47 368.64,286.94 368.00,285.50" fill="#141414" filter="url(#bl)"/>
<polygon points="395.50,285.50 396.14,284.02 396.79,283.57 397.43,283.33 398.07,283.22 398.71,283.21 399.36,283.23 400.00,283.25 400.64,283.25 401.28,283.24 401.93,283.22 402.57,283.18 403.21,283.14 403.85,283.09 404.50,283.04 405.14,282.98 405.78,282.92 406.42,282.87 407.06,282.83 407.71,282.79 408.35,282.77 408.99,282.75 409.63,282.75 410.28,282.76 410.92,282.79 411.56,282.82 412.20,282.86 412.85,282.91 413.49,282.97 414.13,283.02 414.77,283.08 415.42,283.13 416.06,283.17 416.70,283.21 417.34,283.23 417.99,283.25 418.63,283.30 419.27,283.43 419.91,283.68 420.56,284.11 421.20,285.50 421.20,285.50 420.56,286.89 419.91,287.32 419.27,287.57 418.63,287.70 417.99,287.75 417.34,287.77 416.70,287.79 416.06,287.83 415.42,287.87 414.77,287.92 414.13,287.98 413.49,288.03 412.85,288.09 412.20,288.14 411.56,288.18 410.92,288.21 410.28,288.24 409.63,288.25 408.99,288.25 408.35,288.23 407.71,288.21 407.06,288.17 406.42,288.13 405.78,288.08 405.14,288.02 404.50,287.96 403.85,287.91 403.21,287.86 402.57,287.82 401.93,287.78 401.28,287.76 400.64,287.75 400.00,287.75 399.36,287.77 398.71,287.79 398.07,287.78 397.43,287.67 396.79,287.43 396.14,286.98 395.50,285.50" fill="#141414" filter="url(#bl)"/>
<polygon points="423.30,285.50 423.89,284.13 424.49,283.67 425.08,283.39 425.67,283.20 426.26,283.08 426.86,283.01 427.45,282.97 428.04,282.92 428.63,282.87 429.23,282.81 429.82,282.74 430.41,282.69 431.00,282.64 431.60,282.59 432.19,282.56 432.78,282.54 433.37,282.53 433.97,282.54 434.56,282.56 435.15,282.59 435.74,282.63 436.33,282.68 436.93,282.74 437.52,282.80 438.11,282.86 438.70,282.91 439.30,282.97 439.89,283.01 440.48,283.04 441.07,283.06 441.67,283.07 442.26,283.06 442.85,283.04 443.44,283.01 444.04,283.00 444.63,283.06 445.22,283.20 445.81,283.48 446.41,283.97 447.00,285.50 447.00,285.50 446.41,287.03 445.81,287.52 445.22,287.80 444.63,287.94 444.04,288.00 443.44,287.99 442.85,287.96 442.26,287.94 441.67,287.93 441.07,287.94 440.48,287.96 439.89,287.99 439.30,288.03 438.70,288.09 438.11,288.14 437.52,288.20 436.93,288.26 436.33,288.32 435.74,288.37 435.15,288.41 434.56,288.44 433.97,288.46 433.37,288.47 432.78,288.46 432.19,288.44 431.60,288.41 431.00,288.36 430.41,288.31 429.82,288.26 429.23,288.19 428.63,288.13 428.04,288.08 427.45,288.03 426.86,287.99 426.26,287.92 425.67,287.80 425.08,287.61 424.49,287.33 423.89,286.87 423.30,285.50" fill="#141414" filter="url(#bl)"/>
<polygon points="450.00,285.50 450.52,284.04 451.05,283.53 451.57,283.21 452.10,283.01 452.62,282.92 453.15,282.92 453.68,282.96 454.20,283.01 454.73,283.06 455.25,283.11 455.77,283.17 456.30,283.22 456.82,283.26 457.35,283.30 457.88,283.32 458.40,283.34 458.93,283.34 459.45,283.33 459.98,283.31 460.50,283.28 461.02,283.24 461.55,283.19 462.07,283.14 462.60,283.08 463.12,283.03 463.65,282.98 464.18,282.94 464.70,282.90 465.23,282.88 465.75,282.86 466.27,282.86 466.80,282.87 467.32,282.89 467.85,282.92 468.38,283.00 468.90,283.15 469.43,283.38 469.95,283.72 470.48,284.21 471.00,285.50 471.00,285.50 470.48,286.79 469.95,287.28 469.43,287.62 468.90,287.85 468.38,288.00 467.85,288.08 467.32,288.11 466.80,288.13 466.27,288.14 465.75,288.14 465.23,288.12 464.70,288.10 464.18,288.06 463.65,288.02 463.12,287.97 462.60,287.92 462.07,287.86 461.55,287.81 461.02,287.76 460.50,287.72 459.98,287.69 459.45,287.67 458.93,287.66 458.40,287.66 457.88,287.68 457.35,287.70 456.82,287.74 456.30,287.78 455.77,287.83 455.25,287.89 454.73,287.94 454.20,287.99 453.68,288.04 453.15,288.08 452.62,288.08 452.10,287.99 451.57,287.79 451.05,287.47 450.52,286.96 450.00,285.50" fill="#141414" filter="url(#bl)"/>
<rect x="234.4" y="313.0" width="109.4" height="22.600000000000023" fill="url(#gg)"/>
<rect x="234.4" y="313.0" width="109.4" height="22.600000000000023" fill="#000" filter="url(#nz)" opacity="0.08"/>
<rect x="234.4" y="313.0" width="109.4" height="22.600000000000023" fill="none" stroke="#111" stroke-width="2"/>
<polygon points="237.50,326.20 238.09,325.04 238.69,324.68 239.28,324.49 239.87,324.40 240.46,324.38 241.06,324.36 241.65,324.33 242.24,324.30 242.83,324.25 243.43,324.21 244.02,324.16 244.61,324.12 245.20,324.08 245.79,324.05 246.39,324.02 246.98,324.01 247.57,324.00 248.16,324.00 248.76,324.02 249.35,324.04 249.94,324.07 250.53,324.11 251.13,324.15 251.72,324.19 252.31,324.24 252.91,324.28 253.50,324.32 254.09,324.35 254.68,324.38 255.27,324.39 255.87,324.40 256.46,324.40 257.05,324.38 257.64,324.36 258.24,324.33 258.83,324.30 259.42,324.35 260.01,324.53 260.61,324.90 261.20,326.20 261.20,326.20 260.61,327.50 260.01,327.87 259.42,328.05 258.83,328.10 258.24,328.07 257.64,328.04 257.05,328.02 256.46,328.00 255.87,328.00 255.27,328.01 254.68,328.02 254.09,328.05 253.50,328.08 252.91,328.12 252.31,328.16 251.72,328.21 251.13,328.25 250.53,328.29 249.94,328.33 249.35,328.36 248.76,328.38 248.16,328.40 247.57,328.40 246.98,328.39 246.39,328.38 245.79,328.35 245.20,328.32 244.61,328.28 244.02,328.24 243.43,328.19 242.83,328.15 242.24,328.10 241.65,328.07 241.06,328.04 240.46,328.02 239.87,328.00 239.28,327.91 238.69,327.72 238.09,327.36 237.50,326.20" fill="#141414" filter="url(#bl)"/>
<polygon points="266.20,326.20 266.73,325.06 267.26,324.65 267.80,324.38 268.33,324.22 268.86,324.14 269.39,324.10 269.93,324.06 270.46,324.04 270.99,324.01 271.52,324.00 272.06,324.00 272.59,324.01 273.12,324.03 273.65,324.05 274.19,324.09 274.72,324.13 275.25,324.17 275.78,324.22 276.32,324.26 276.85,324.30 277.38,324.34 277.92,324.37 278.45,324.39 278.98,324.40 279.51,324.40 280.05,324.39 280.58,324.37 281.11,324.35 281.64,324.31 282.18,324.27 282.71,324.23 283.24,324.18 283.77,324.14 284.31,324.10 284.84,324.06 285.37,324.07 285.90,324.18 286.44,324.43 286.97,324.87 287.50,326.20 287.50,326.20 286.97,327.53 286.44,327.97 285.90,328.22 285.37,328.33 284.84,328.34 284.31,328.30 283.77,328.26 283.24,328.22 282.71,328.17 282.18,328.13 281.64,328.09 281.11,328.05 280.58,328.03 280.05,328.01 279.51,328.00 278.98,328.00 278.45,328.01 277.92,328.03 277.38,328.06 276.85,328.10 276.32,328.14 275.78,328.18 275.25,328.23 274.72,328.27 274.19,328.31 273.65,328.35 273.12,328.37 272.59,328.39 272.06,328.40 271.52,328.40 270.99,328.39 270.46,328.36 269.93,328.34 269.39,328.30 268.86,328.26 268.33,328.18 267.80,328.02 267.26,327.75 266.73,327.34 266.20,326.20" fill="#141414" filter="url(#bl)"/>
<polygon points="292.50,326.20 293.09,324.94 293.69,324.57 294.28,324.38 294.87,324.30 295.46,324.30 296.06,324.31 296.65,324.31 297.24,324.30 297.83,324.27 298.43,324.24 299.02,324.20 299.61,324.16 300.20,324.12 300.80,324.07 301.39,324.02 301.98,323.98 302.57,323.95 303.17,323.92 303.76,323.90 304.35,323.89 304.94,323.89 305.53,323.91 306.13,323.93 306.72,323.96 307.31,324.00 307.90,324.04 308.50,324.09 309.09,324.13 309.68,324.18 310.27,324.22 310.87,324.26 311.46,324.28 312.05,324.30 312.64,324.31 313.24,324.31 313.83,324.31 314.42,324.39 315.01,324.58 315.61,324.96 316.20,326.20 316.20,326.20 315.61,327.44 315.01,327.82 314.42,328.01 313.83,328.09 313.24,328.09 312.64,328.09 312.05,328.10 311.46,328.12 310.87,328.14 310.27,328.18 309.68,328.22 309.09,328.27 308.50,328.31 307.90,328.36 307.31,328.40 306.72,328.44 306.13,328.47 305.53,328.49 304.94,328.51 304.35,328.51 303.76,328.50 303.17,328.48 302.57,328.45 301.98,328.42 301.39,328.38 300.80,328.33 300.20,328.28 299.61,328.24 299.02,328.20 298.43,328.16 297.83,328.13 297.24,328.10 296.65,328.09 296.06,328.09 295.46,328.10 294.87,328.10 294.28,328.02 293.69,327.83 293.09,327.46 292.50,326.20" fill="#141414" filter="url(#bl)"/>
<polygon points="320.00,326.20 320.56,325.05 321.12,324.66 321.69,324.42 322.25,324.27 322.81,324.20 323.38,324.16 323.94,324.11 324.50,324.06 325.06,324.02 325.62,323.98 326.19,323.94 326.75,323.92 327.31,323.90 327.88,323.89 328.44,323.89 329.00,323.91 329.56,323.93 330.12,323.96 330.69,324.00 331.25,324.04 331.81,324.09 332.38,324.14 332.94,324.18 333.50,324.22 334.06,324.26 334.62,324.29 335.19,324.30 335.75,324.31 336.31,324.31 336.88,324.29 337.44,324.27 338.00,324.24 338.56,324.20 339.12,324.15 339.69,324.11 340.25,324.09 340.81,324.18 341.38,324.40 341.94,324.83 342.50,326.20 342.50,326.20 341.94,327.57 341.38,328.00 340.81,328.22 340.25,328.31 339.69,328.29 339.12,328.25 338.56,328.20 338.00,328.16 337.44,328.13 336.88,328.11 336.31,328.09 335.75,328.09 335.19,328.10 334.62,328.11 334.06,328.14 333.50,328.18 332.94,328.22 332.38,328.26 331.81,328.31 331.25,328.36 330.69,328.40 330.12,328.44 329.56,328.47 329.00,328.49 328.44,328.51 327.88,328.51 327.31,328.50 326.75,328.48 326.19,328.46 325.62,328.42 325.06,328.38 324.50,328.34 323.94,328.29 323.38,328.24 322.81,328.20 322.25,328.13 321.69,327.98 321.12,327.74 320.56,327.35 320.00,326.20" fill="#141414" filter="url(#bl)"/>
<rect x="364.8" y="313.0" width="107.80000000000001" height="22.600000000000023" fill="url(#gg)"/>
<rect x="364.8" y="313.0" width="107.80000000000001" height="22.600000000000023" fill="#000" filter="url(#nz)" opacity="0.08"/>
<rect x="364.8" y="313.0" width="107.80000000000001" height="22.600000000000023" fill="none" stroke="#111" stroke-width="2"/>
<polygon points="368.00,324.80 368.49,323.90 368.98,323.63 369.46,323.49 369.95,323.44 370.44,323.42 370.93,323.40 371.41,323.37 371.90,323.34 372.39,323.31 372.88,323.27 373.36,323.24 373.85,323.21 374.34,323.19 374.82,323.17 375.31,323.16 375.80,323.15 376.29,323.15 376.77,323.16 377.26,323.18 377.75,323.20 378.24,323.23 378.73,323.26 379.21,323.30 379.70,323.33 380.19,323.36 380.68,323.39 381.16,323.41 381.65,323.43 382.14,323.45 382.62,323.45 383.11,323.45 383.60,323.44 384.09,323.42 384.57,323.40 385.06,323.37 385.55,323.34 386.04,323.35 386.52,323.48 387.01,323.77 387.50,324.80 387.50,324.80 387.01,325.83 386.52,326.12 386.04,326.25 385.55,326.26 385.06,326.23 384.57,326.20 384.09,326.18 383.60,326.16 383.11,326.15 382.62,326.15 382.14,326.15 381.65,326.17 381.16,326.19 380.68,326.21 380.19,326.24 379.70,326.27 379.21,326.30 378.73,326.34 378.24,326.37 377.75,326.40 377.26,326.42 376.77,326.44 376.29,326.45 375.80,326.45 375.31,326.44 374.82,326.43 374.34,326.41 373.85,326.39 373.36,326.36 372.88,326.33 372.39,326.29 371.90,326.26 371.41,326.23 370.93,326.20 370.44,326.18 369.95,326.16 369.46,326.11 368.98,325.97 368.49,325.70 368.00,324.80" fill="#141414" filter="url(#bl)"/>
<polygon points="393.70,324.80 394.23,323.67 394.76,323.30 395.30,323.11 395.83,323.05 396.36,323.04 396.89,323.04 397.43,323.05 397.96,323.07 398.49,323.10 399.02,323.12 399.56,323.16 400.09,323.19 400.62,323.23 401.15,323.26 401.69,323.29 402.22,323.32 402.75,323.34 403.28,323.35 403.82,323.36 404.35,323.36 404.88,323.35 405.42,323.33 405.95,323.30 406.48,323.27 407.01,323.24 407.55,323.20 408.08,323.17 408.61,323.13 409.14,323.10 409.68,323.08 410.21,323.06 410.74,323.05 411.27,323.04 411.81,323.04 412.34,323.05 412.87,323.07 413.40,323.14 413.94,323.34 414.47,323.70 415.00,324.80 415.00,324.80 414.47,325.90 413.94,326.26 413.40,326.46 412.87,326.53 412.34,326.55 411.81,326.56 411.27,326.56 410.74,326.55 410.21,326.54 409.68,326.52 409.14,326.50 408.61,326.47 408.08,326.43 407.55,326.40 407.01,326.36 406.48,326.33 405.95,326.30 405.42,326.27 404.88,326.25 404.35,326.24 403.82,326.24 403.28,326.25 402.75,326.26 402.22,326.28 401.69,326.31 401.15,326.34 400.62,326.37 400.09,326.41 399.56,326.44 399.02,326.48 398.49,326.50 397.96,326.53 397.43,326.55 396.89,326.56 396.36,326.56 395.83,326.55 395.30,326.49 394.76,326.30 394.23,325.93 393.70,324.80" fill="#141414" filter="url(#bl)"/>
<polygon points="421.20,324.60 421.76,323.58 422.32,323.25 422.89,323.07 423.45,323.00 424.01,322.97 424.57,322.93 425.14,322.89 425.70,322.85 426.26,322.82 426.82,322.79 427.39,322.76 427.95,322.74 428.51,322.73 429.07,322.73 429.64,322.74 430.20,322.75 430.76,322.77 431.32,322.80 431.89,322.84 432.45,322.87 433.01,322.91 433.57,322.95 434.14,322.98 434.70,323.01 435.26,323.04 435.82,323.06 436.39,323.07 436.95,323.07 437.51,323.06 438.07,323.05 438.64,323.03 439.20,323.00 439.76,322.96 440.32,322.93 440.89,322.89 441.45,322.85 442.01,322.87 442.57,323.02 443.14,323.37 443.70,324.60 443.70,324.60 443.14,325.83 442.57,326.18 442.01,326.33 441.45,326.35 440.89,326.31 440.32,326.27 439.76,326.24 439.20,326.20 438.64,326.17 438.07,326.15 437.51,326.14 436.95,326.13 436.39,326.13 435.82,326.14 435.26,326.16 434.70,326.19 434.14,326.22 433.57,326.25 433.01,326.29 432.45,326.33 431.89,326.36 431.32,326.40 430.76,326.43 430.20,326.45 429.64,326.46 429.07,326.47 428.51,326.47 427.95,326.46 427.39,326.44 426.82,326.41 426.26,326.38 425.70,326.35 425.14,326.31 424.57,326.27 424.01,326.23 423.45,326.20 422.89,326.13 422.32,325.95 421.76,325.62 421.20,324.60" fill="#141414" filter="url(#bl)"/>
<polygon points="448.70,324.30 449.26,323.25 449.81,322.95 450.37,322.81 450.93,322.77 451.49,322.77 452.05,322.76 452.60,322.74 453.16,322.72 453.72,322.69 454.27,322.65 454.83,322.62 455.39,322.58 455.95,322.54 456.50,322.51 457.06,322.48 457.62,322.45 458.18,322.44 458.74,322.43 459.29,322.43 459.85,322.44 460.41,322.46 460.96,322.48 461.52,322.51 462.08,322.55 462.64,322.59 463.19,322.62 463.75,322.66 464.31,322.69 464.87,322.72 465.43,322.75 465.98,322.76 466.54,322.77 467.10,322.77 467.65,322.76 468.21,322.74 468.77,322.72 469.33,322.73 469.88,322.87 470.44,323.18 471.00,324.30 471.00,324.30 470.44,325.42 469.88,325.73 469.33,325.87 468.77,325.88 468.21,325.86 467.65,325.84 467.10,325.83 466.54,325.83 465.98,325.84 465.43,325.85 464.87,325.88 464.31,325.91 463.75,325.94 463.19,325.98 462.64,326.01 462.08,326.05 461.52,326.09 460.96,326.12 460.41,326.14 459.85,326.16 459.29,326.17 458.74,326.17 458.18,326.16 457.62,326.15 457.06,326.12 456.50,326.09 455.95,326.06 455.39,326.02 454.83,325.98 454.27,325.95 453.72,325.91 453.16,325.88 452.60,325.86 452.05,325.84 451.49,325.83 450.93,325.83 450.37,325.79 449.81,325.65 449.26,325.35 448.70,324.30" fill="#141414" filter="url(#bl)"/>
<text x="246.3" y="270.6" font-size="10.9" text-anchor="middle" font-weight="normal" >1</text>
<text x="276.3" y="270.6" font-size="10.9" text-anchor="middle" font-weight="normal" >1.7</text>
<text x="303" y="270.6" font-size="10.9" text-anchor="middle" font-weight="normal" >1</text>
<text x="331.3" y="270.6" font-size="10.9" text-anchor="middle" font-weight="normal" >1.8</text>
<text x="377.5" y="270.6" font-size="10.9" text-anchor="middle" font-weight="normal" >1</text>
<text x="406.9" y="270.6" font-size="10.9" text-anchor="middle" font-weight="normal" >1.6</text>
<text x="432.5" y="270.6" font-size="10.9" text-anchor="middle" font-weight="normal" >1</text>
<text x="460" y="270.6" font-size="10.9" text-anchor="middle" font-weight="normal" >1.4</text>
<text x="8.6" y="393.2" font-size="14" text-anchor="start" font-weight="bold" >D</text>
<line x1="59" y1="396.4" x2="59" y2="532.2" stroke="#111" stroke-width="1.6"/>
<line x1="55.5" y1="531.4" x2="59" y2="531.4" stroke="#111" stroke-width="1.5"/>
<text x="51.5" y="534.9" font-size="10" text-anchor="end" font-weight="normal" >0</text>
<line x1="55.5" y1="486.6" x2="59" y2="486.6" stroke="#111" stroke-width="1.5"/>
<text x="51.5" y="490.1" font-size="10" text-anchor="end" font-weight="normal" >50</text>
<line x1="55.5" y1="441.8" x2="59" y2="441.8" stroke="#111" stroke-width="1.5"/>
<text x="51.5" y="445.3" font-size="10" text-anchor="end" font-weight="normal" >100</text>
<line x1="55.5" y1="397.0" x2="59" y2="397.0" stroke="#111" stroke-width="1.5"/>
<text x="51.5" y="400.5" font-size="10" text-anchor="end" font-weight="normal" >150</text>
<line x1="55.5" y1="531.4" x2="274.8" y2="531.4" stroke="#111" stroke-width="1.7"/>
<line x1="58.3" y1="397.2" x2="274.8" y2="397.2" stroke="#111" stroke-width="1.8"/>
<line x1="273.9" y1="396.3" x2="273.9" y2="532.2" stroke="#111" stroke-width="1.9"/>
<line x1="131.3" y1="397" x2="131.3" y2="531.4" stroke="#111" stroke-width="1.6"/>
<line x1="202" y1="397" x2="202" y2="531.4" stroke="#111" stroke-width="1.6"/>
<line x1="77" y1="531.4" x2="77" y2="535.2" stroke="#111" stroke-width="1.5"/>
<line x1="113" y1="531.4" x2="113" y2="535.2" stroke="#111" stroke-width="1.5"/>
<line x1="148.8" y1="531.4" x2="148.8" y2="535.2" stroke="#111" stroke-width="1.5"/>
<line x1="184.3" y1="531.4" x2="184.3" y2="535.2" stroke="#111" stroke-width="1.5"/>
<line x1="220" y1="531.4" x2="220" y2="535.2" stroke="#111" stroke-width="1.5"/>
<line x1="255.5" y1="531.4" x2="255.5" y2="535.2" stroke="#111" stroke-width="1.5"/>
<text x="96" y="415.2" font-size="8.9" text-anchor="middle" font-weight="normal" >mono</text>
<text x="165.4" y="415.2" font-size="8.9" text-anchor="middle" font-weight="normal" >BMSC</text>
<text x="238.4" y="414.6" font-size="8.9" text-anchor="middle" font-weight="normal" >adip</text>
<circle cx="77" cy="509.3" r="3.5" fill="none" stroke="#861b3b" stroke-width="1.35"/>
<circle cx="71.5" cy="520.2" r="3.5" fill="none" stroke="#861b3b" stroke-width="1.35"/>
<circle cx="77" cy="524.6" r="3.5" fill="none" stroke="#861b3b" stroke-width="1.35"/>
<circle cx="83.3" cy="520.2" r="3.5" fill="none" stroke="#861b3b" stroke-width="1.35"/>
<line x1="65" y1="520.8" x2="88.8" y2="520.8" stroke="#111" stroke-width="1.6"/>
<circle cx="113" cy="508.75" r="3.5" fill="none" stroke="#2c416c" stroke-width="1.35"/>
<circle cx="107" cy="519.25" r="3.5" fill="none" stroke="#2c416c" stroke-width="1.35"/>
<circle cx="113" cy="525.75" r="3.5" fill="none" stroke="#2c416c" stroke-width="1.35"/>
<circle cx="119.25" cy="525.75" r="3.5" fill="none" stroke="#2c416c" stroke-width="1.35"/>
<line x1="101.3" y1="522" x2="124.3" y2="522" stroke="#111" stroke-width="1.6"/>
<circle cx="142.5" cy="489.5" r="3.5" fill="none" stroke="#861b3b" stroke-width="1.35"/>
<circle cx="148.75" cy="498" r="3.5" fill="none" stroke="#861b3b" stroke-width="1.35"/>
<circle cx="148" cy="509.5" r="3.5" fill="none" stroke="#861b3b" stroke-width="1.35"/>
<circle cx="154.5" cy="509.5" r="3.5" fill="none" stroke="#861b3b" stroke-width="1.35"/>
<line x1="136.8" y1="503" x2="160.5" y2="503" stroke="#111" stroke-width="1.6"/>
<circle cx="184.25" cy="493.75" r="3.5" fill="none" stroke="#2c416c" stroke-width="1.35"/>
<circle cx="178" cy="500" r="3.5" fill="none" stroke="#2c416c" stroke-width="1.35"/>
<circle cx="184.25" cy="509.5" r="3.5" fill="none" stroke="#2c416c" stroke-width="1.35"/>
<circle cx="190.5" cy="509.5" r="3.5" fill="none" stroke="#2c416c" stroke-width="1.35"/>
<line x1="172.5" y1="504.5" x2="195.8" y2="504.5" stroke="#111" stroke-width="1.6"/>
<circle cx="220" cy="466.25" r="3.5" fill="none" stroke="#861b3b" stroke-width="1.35"/>
<circle cx="213.75" cy="476.25" r="3.5" fill="none" stroke="#861b3b" stroke-width="1.35"/>
<circle cx="220" cy="483.75" r="3.5" fill="none" stroke="#861b3b" stroke-width="1.35"/>
<circle cx="226.25" cy="483.25" r="3.5" fill="none" stroke="#861b3b" stroke-width="1.35"/>
<line x1="208.2" y1="479.5" x2="232" y2="479.5" stroke="#111" stroke-width="1.6"/>
<circle cx="255.5" cy="483.25" r="3.5" fill="none" stroke="#2c416c" stroke-width="1.35"/>
<circle cx="249.5" cy="497.5" r="3.5" fill="none" stroke="#2c416c" stroke-width="1.35"/>
<circle cx="261.75" cy="499.25" r="3.5" fill="none" stroke="#2c416c" stroke-width="1.35"/>
<circle cx="255.5" cy="506.25" r="3.5" fill="none" stroke="#2c416c" stroke-width="1.35"/>
<line x1="243.8" y1="498.8" x2="267" y2="498.8" stroke="#111" stroke-width="1.6"/>
<line x1="215.8" y1="446.8" x2="255.5" y2="446.8" stroke="#111" stroke-width="1.4"/>
<circle cx="235.1" cy="440.2" r="1.55" fill="#111"/>
<text x="28.6" y="503.8" font-size="10" transform="rotate(-90 28.6 503.8)">Cell number x10<tspan font-size="7.8" dx="1.2" dy="-4.6">4</tspan></text>
<text x="80.3" y="542.0" font-size="9.7" text-anchor="end" transform="rotate(-45 80.3 542.0)">AML</text>
<text x="118.4" y="544.4" font-size="9.7" text-anchor="end" transform="rotate(-45 118.4 544.4)">AML+APX</text>
<text x="152.10000000000002" y="542.0" font-size="9.7" text-anchor="end" transform="rotate(-45 152.10000000000002 542.0)">AML</text>
<text x="189.70000000000002" y="544.4" font-size="9.7" text-anchor="end" transform="rotate(-45 189.70000000000002 544.4)">AML+APX</text>
<text x="223.3" y="542.0" font-size="9.7" text-anchor="end" transform="rotate(-45 223.3 542.0)">AML</text>
<text x="260.9" y="544.4" font-size="9.7" text-anchor="end" transform="rotate(-45 260.9 544.4)">AML+APX</text>
<text x="8.6" y="607.7" font-size="14" text-anchor="start" font-weight="bold" >E</text>
<text x="110" y="616.2" font-size="10" text-anchor="start" font-weight="normal" >AML n=4</text>
<line x1="72.5" y1="622.5" x2="72.5" y2="741.7" stroke="#111" stroke-width="1.5"/>
<line x1="69" y1="741" x2="72.5" y2="741" stroke="#111" stroke-width="1.5"/>
<text x="65.9" y="744.5" font-size="10" text-anchor="end" font-weight="normal" >0</text>
<line x1="69" y1="712.2" x2="72.5" y2="712.2" stroke="#111" stroke-width="1.5"/>
<text x="65.9" y="715.7" font-size="10" text-anchor="end" font-weight="normal" >2</text>
<line x1="69" y1="683.5" x2="72.5" y2="683.5" stroke="#111" stroke-width="1.5"/>
<text x="65.9" y="687.0" font-size="10" text-anchor="end" font-weight="normal" >4</text>
<line x1="69" y1="655" x2="72.5" y2="655" stroke="#111" stroke-width="1.5"/>
<text x="65.9" y="658.5" font-size="10" text-anchor="end" font-weight="normal" >6</text>
<line x1="69" y1="626.3" x2="72.5" y2="626.3" stroke="#111" stroke-width="1.5"/>
<text x="65.9" y="629.8" font-size="10" text-anchor="end" font-weight="normal" >8</text>
<line x1="69" y1="741" x2="189.5" y2="741" stroke="#111" stroke-width="1.5"/>
<rect x="85.7" y="725.2" width="12.3" height="15.8" fill="#aa0c33"/>
<line x1="92.1" y1="719.6" x2="92.1" y2="725.2" stroke="#111" stroke-width="1.4"/>
<line x1="88.3" y1="719.6" x2="95.89999999999999" y2="719.6" stroke="#111" stroke-width="1.4"/>
<g opacity="0.35">
<line x1="92.1" y1="725.2" x2="92.1" y2="730.5" stroke="#000" stroke-width="1.4"/>
<line x1="88.3" y1="730.5" x2="95.89999999999999" y2="730.5" stroke="#000" stroke-width="1.4"/>
</g>
<rect x="124.9" y="677.9" width="12.3" height="63.1" fill="#67aa40"/>
<line x1="131.1" y1="659.3" x2="131.1" y2="677.9" stroke="#111" stroke-width="1.4"/>
<line x1="127.0" y1="659.3" x2="135.2" y2="659.3" stroke="#111" stroke-width="1.4"/>
<g opacity="0.75">
<line x1="131.1" y1="677.9" x2="131.1" y2="695.8" stroke="#000" stroke-width="1.4"/>
<line x1="127.0" y1="695.8" x2="135.2" y2="695.8" stroke="#000" stroke-width="1.4"/>
</g>
<rect x="163.3" y="709.8" width="12.6" height="31.2" fill="#2d4a82"/>
<line x1="169.5" y1="704.6" x2="169.5" y2="709.8" stroke="#111" stroke-width="1.4"/>
<line x1="165.8" y1="704.6" x2="173.2" y2="704.6" stroke="#111" stroke-width="1.4"/>
<g opacity="0.5">
<line x1="169.5" y1="709.8" x2="169.5" y2="714.7" stroke="#000" stroke-width="1.4"/>
<line x1="165.8" y1="714.7" x2="173.2" y2="714.7" stroke="#000" stroke-width="1.4"/>
</g>
<circle cx="169.4" cy="697.9" r="1.4" fill="#111"/>
<text x="92" y="753.2" font-size="9.5" text-anchor="middle" font-weight="normal" >BMSC</text>
<text x="91.7" y="764.8" font-size="9.5" text-anchor="middle" font-weight="normal" >(DAA)</text>
<text x="131.6" y="753.2" font-size="9.5" text-anchor="middle" font-weight="normal" >ADI</text>
<text x="131.2" y="764.8" font-size="9.5" text-anchor="middle" font-weight="normal" >(DAA)</text>
<text x="169.7" y="753.2" font-size="9.5" text-anchor="middle" font-weight="normal" >ADI</text>
<text x="169.7" y="764.8" font-size="9.5" text-anchor="middle" font-weight="normal" >(DAA)</text>
<text x="169.7" y="777.3" font-size="9.5" text-anchor="middle" font-weight="normal" >+ APX</text>
<text x="39.6" y="682" font-size="10" text-anchor="middle" transform="rotate(-90 39.6 682)">Relative DAA fluorescence</text>
<text x="52.6" y="683.6" font-size="10" text-anchor="middle" transform="rotate(-90 52.6 683.6)">(fold change)</text>
<text x="207.6" y="607.7" font-size="14" text-anchor="start" font-weight="bold" >F</text>
<text x="300.8" y="616.2" font-size="10" text-anchor="middle" font-weight="normal" >AML#8</text>
<text x="443.5" y="616.2" font-size="10" text-anchor="middle" font-weight="normal" >AML#11</text>
<line x1="220" y1="631" x2="220" y2="717.3" stroke="#111" stroke-width="1.6"/>
<polygon points="220,623.3 224.2,633.6 220,631.6 215.8,633.6" fill="#111"/>
<text x="223.1" y="737.4" font-size="10.2" text-anchor="middle" transform="rotate(-90 223.1 737.4)">Count</text>
<text x="244.3" y="767.7" font-size="10" text-anchor="start" font-weight="normal" >DAA fluorescence</text>
<line x1="328.6" y1="765.3" x2="500" y2="765.3" stroke="#111" stroke-width="1.6"/>
<polygon points="509.2,765.3 498.6,761 500.8,765.3 498.6,769.6" fill="#111"/>
<line x1="234" y1="619.6" x2="234" y2="751" stroke="#111" stroke-width="1.5"/>
<line x1="231" y1="750.3" x2="367.5" y2="750.3" stroke="#111" stroke-width="1.5"/>
<line x1="230" y1="623.4" x2="234" y2="623.4" stroke="#111" stroke-width="1.2"/>
<line x1="231.8" y1="631.3" x2="234" y2="631.3" stroke="#111" stroke-width="1.2"/>
<line x1="231.8" y1="639.1999999999999" x2="234" y2="639.1999999999999" stroke="#111" stroke-width="1.2"/>
<line x1="231.8" y1="647.1" x2="234" y2="647.1" stroke="#111" stroke-width="1.2"/>
<line x1="230" y1="655.0" x2="234" y2="655.0" stroke="#111" stroke-width="1.2"/>
<line x1="231.8" y1="662.9" x2="234" y2="662.9" stroke="#111" stroke-width="1.2"/>
<line x1="231.8" y1="670.8" x2="234" y2="670.8" stroke="#111" stroke-width="1.2"/>
<line x1="231.8" y1="678.6999999999999" x2="234" y2="678.6999999999999" stroke="#111" stroke-width="1.2"/>
<line x1="230" y1="686.6" x2="234" y2="686.6" stroke="#111" stroke-width="1.2"/>
<line x1="231.8" y1="694.5" x2="234" y2="694.5" stroke="#111" stroke-width="1.2"/>
<line x1="231.8" y1="702.4" x2="234" y2="702.4" stroke="#111" stroke-width="1.2"/>
<line x1="231.8" y1="710.3" x2="234" y2="710.3" stroke="#111" stroke-width="1.2"/>
<line x1="230" y1="718.2" x2="234" y2="718.2" stroke="#111" stroke-width="1.2"/>
<line x1="231.8" y1="726.1" x2="234" y2="726.1" stroke="#111" stroke-width="1.2"/>
<line x1="231.8" y1="734.0" x2="234" y2="734.0" stroke="#111" stroke-width="1.2"/>
<line x1="231.8" y1="741.9" x2="234" y2="741.9" stroke="#111" stroke-width="1.2"/>
<line x1="238.8" y1="750.3" x2="238.8" y2="754" stroke="#111" stroke-width="1.2"/>
<line x1="248.252341863849" y1="750.3" x2="248.252341863849" y2="752.3" stroke="#111" stroke-width="1.0"/>
<line x1="253.78160739819742" y1="750.3" x2="253.78160739819742" y2="752.3" stroke="#111" stroke-width="1.0"/>
<line x1="257.704683727698" y1="750.3" x2="257.704683727698" y2="752.3" stroke="#111" stroke-width="1.0"/>
<line x1="260.747658136151" y1="750.3" x2="260.747658136151" y2="752.3" stroke="#111" stroke-width="1.0"/>
<line x1="263.2339492620464" y1="750.3" x2="263.2339492620464" y2="752.3" stroke="#111" stroke-width="1.0"/>
<line x1="265.3360784564477" y1="750.3" x2="265.3360784564477" y2="752.3" stroke="#111" stroke-width="1.0"/>
<line x1="267.15702559154704" y1="750.3" x2="267.15702559154704" y2="752.3" stroke="#111" stroke-width="1.0"/>
<line x1="268.76321479639483" y1="750.3" x2="268.76321479639483" y2="752.3" stroke="#111" stroke-width="1.0"/>
<line x1="270.2" y1="750.3" x2="270.2" y2="754" stroke="#111" stroke-width="1.2"/>
<line x1="279.652341863849" y1="750.3" x2="279.652341863849" y2="752.3" stroke="#111" stroke-width="1.0"/>
<line x1="285.1816073981974" y1="750.3" x2="285.1816073981974" y2="752.3" stroke="#111" stroke-width="1.0"/>
<line x1="289.104683727698" y1="750.3" x2="289.104683727698" y2="752.3" stroke="#111" stroke-width="1.0"/>
<line x1="292.147658136151" y1="750.3" x2="292.147658136151" y2="752.3" stroke="#111" stroke-width="1.0"/>
<line x1="294.6339492620464" y1="750.3" x2="294.6339492620464" y2="752.3" stroke="#111" stroke-width="1.0"/>
<line x1="296.7360784564477" y1="750.3" x2="296.7360784564477" y2="752.3" stroke="#111" stroke-width="1.0"/>
<line x1="298.557025591547" y1="750.3" x2="298.557025591547" y2="752.3" stroke="#111" stroke-width="1.0"/>
<line x1="300.1632147963948" y1="750.3" x2="300.1632147963948" y2="752.3" stroke="#111" stroke-width="1.0"/>
<line x1="301.6" y1="750.3" x2="301.6" y2="754" stroke="#111" stroke-width="1.2"/>
<line x1="311.05234186384905" y1="750.3" x2="311.05234186384905" y2="752.3" stroke="#111" stroke-width="1.0"/>
<line x1="316.58160739819743" y1="750.3" x2="316.58160739819743" y2="752.3" stroke="#111" stroke-width="1.0"/>
<line x1="320.504683727698" y1="750.3" x2="320.504683727698" y2="752.3" stroke="#111" stroke-width="1.0"/>
<line x1="323.54765813615103" y1="750.3" x2="323.54765813615103" y2="752.3" stroke="#111" stroke-width="1.0"/>
<line x1="326.0339492620464" y1="750.3" x2="326.0339492620464" y2="752.3" stroke="#111" stroke-width="1.0"/>
<line x1="328.1360784564477" y1="750.3" x2="328.1360784564477" y2="752.3" stroke="#111" stroke-width="1.0"/>
<line x1="329.95702559154705" y1="750.3" x2="329.95702559154705" y2="752.3" stroke="#111" stroke-width="1.0"/>
<line x1="331.56321479639485" y1="750.3" x2="331.56321479639485" y2="752.3" stroke="#111" stroke-width="1.0"/>
<line x1="333" y1="750.3" x2="333" y2="754" stroke="#111" stroke-width="1.2"/>
<line x1="342.452341863849" y1="750.3" x2="342.452341863849" y2="752.3" stroke="#111" stroke-width="1.0"/>
<line x1="347.9816073981974" y1="750.3" x2="347.9816073981974" y2="752.3" stroke="#111" stroke-width="1.0"/>
<line x1="351.904683727698" y1="750.3" x2="351.904683727698" y2="752.3" stroke="#111" stroke-width="1.0"/>
<line x1="354.947658136151" y1="750.3" x2="354.947658136151" y2="752.3" stroke="#111" stroke-width="1.0"/>
<line x1="357.4339492620464" y1="750.3" x2="357.4339492620464" y2="752.3" stroke="#111" stroke-width="1.0"/>
<line x1="359.5360784564477" y1="750.3" x2="359.5360784564477" y2="752.3" stroke="#111" stroke-width="1.0"/>
<line x1="361.357025591547" y1="750.3" x2="361.357025591547" y2="752.3" stroke="#111" stroke-width="1.0"/>
<line x1="362.9632147963948" y1="750.3" x2="362.9632147963948" y2="752.3" stroke="#111" stroke-width="1.0"/>
<line x1="364.4" y1="750.3" x2="364.4" y2="754" stroke="#111" stroke-width="1.2"/>
<line x1="376" y1="619.6" x2="376" y2="751" stroke="#111" stroke-width="1.5"/>
<line x1="373" y1="750.3" x2="511.5" y2="750.3" stroke="#111" stroke-width="1.5"/>
<line x1="372" y1="623.4" x2="376" y2="623.4" stroke="#111" stroke-width="1.2"/>
<line x1="373.8" y1="631.3" x2="376" y2="631.3" stroke="#111" stroke-width="1.2"/>
<line x1="373.8" y1="639.1999999999999" x2="376" y2="639.1999999999999" stroke="#111" stroke-width="1.2"/>
<line x1="373.8" y1="647.1" x2="376" y2="647.1" stroke="#111" stroke-width="1.2"/>
<line x1="372" y1="655.0" x2="376" y2="655.0" stroke="#111" stroke-width="1.2"/>
<line x1="373.8" y1="662.9" x2="376" y2="662.9" stroke="#111" stroke-width="1.2"/>
<line x1="373.8" y1="670.8" x2="376" y2="670.8" stroke="#111" stroke-width="1.2"/>
<line x1="373.8" y1="678.6999999999999" x2="376" y2="678.6999999999999" stroke="#111" stroke-width="1.2"/>
<line x1="372" y1="686.6" x2="376" y2="686.6" stroke="#111" stroke-width="1.2"/>
<line x1="373.8" y1="694.5" x2="376" y2="694.5" stroke="#111" stroke-width="1.2"/>
<line x1="373.8" y1="702.4" x2="376" y2="702.4" stroke="#111" stroke-width="1.2"/>
<line x1="373.8" y1="710.3" x2="376" y2="710.3" stroke="#111" stroke-width="1.2"/>
<line x1="372" y1="718.2" x2="376" y2="718.2" stroke="#111" stroke-width="1.2"/>
<line x1="373.8" y1="726.1" x2="376" y2="726.1" stroke="#111" stroke-width="1.2"/>
<line x1="373.8" y1="734.0" x2="376" y2="734.0" stroke="#111" stroke-width="1.2"/>
<line x1="373.8" y1="741.9" x2="376" y2="741.9" stroke="#111" stroke-width="1.2"/>
<line x1="381" y1="750.3" x2="381" y2="754" stroke="#111" stroke-width="1.2"/>
<line x1="390.452341863849" y1="750.3" x2="390.452341863849" y2="752.3" stroke="#111" stroke-width="1.0"/>
<line x1="395.9816073981974" y1="750.3" x2="395.9816073981974" y2="752.3" stroke="#111" stroke-width="1.0"/>
<line x1="399.904683727698" y1="750.3" x2="399.904683727698" y2="752.3" stroke="#111" stroke-width="1.0"/>
<line x1="402.947658136151" y1="750.3" x2="402.947658136151" y2="752.3" stroke="#111" stroke-width="1.0"/>
<line x1="405.4339492620464" y1="750.3" x2="405.4339492620464" y2="752.3" stroke="#111" stroke-width="1.0"/>
<line x1="407.5360784564477" y1="750.3" x2="407.5360784564477" y2="752.3" stroke="#111" stroke-width="1.0"/>
<line x1="409.357025591547" y1="750.3" x2="409.357025591547" y2="752.3" stroke="#111" stroke-width="1.0"/>
<line x1="410.9632147963948" y1="750.3" x2="410.9632147963948" y2="752.3" stroke="#111" stroke-width="1.0"/>
<line x1="412.7" y1="750.3" x2="412.7" y2="754" stroke="#111" stroke-width="1.2"/>
<line x1="422.152341863849" y1="750.3" x2="422.152341863849" y2="752.3" stroke="#111" stroke-width="1.0"/>
<line x1="427.6816073981974" y1="750.3" x2="427.6816073981974" y2="752.3" stroke="#111" stroke-width="1.0"/>
<line x1="431.604683727698" y1="750.3" x2="431.604683727698" y2="752.3" stroke="#111" stroke-width="1.0"/>
<line x1="434.647658136151" y1="750.3" x2="434.647658136151" y2="752.3" stroke="#111" stroke-width="1.0"/>
<line x1="437.1339492620464" y1="750.3" x2="437.1339492620464" y2="752.3" stroke="#111" stroke-width="1.0"/>
<line x1="439.2360784564477" y1="750.3" x2="439.2360784564477" y2="752.3" stroke="#111" stroke-width="1.0"/>
<line x1="441.057025591547" y1="750.3" x2="441.057025591547" y2="752.3" stroke="#111" stroke-width="1.0"/>
<line x1="442.6632147963948" y1="750.3" x2="442.6632147963948" y2="752.3" stroke="#111" stroke-width="1.0"/>
<line x1="444.4" y1="750.3" x2="444.4" y2="754" stroke="#111" stroke-width="1.2"/>
<line x1="453.852341863849" y1="750.3" x2="453.852341863849" y2="752.3" stroke="#111" stroke-width="1.0"/>
<line x1="459.3816073981974" y1="750.3" x2="459.3816073981974" y2="752.3" stroke="#111" stroke-width="1.0"/>
<line x1="463.304683727698" y1="750.3" x2="463.304683727698" y2="752.3" stroke="#111" stroke-width="1.0"/>
<line x1="466.347658136151" y1="750.3" x2="466.347658136151" y2="752.3" stroke="#111" stroke-width="1.0"/>
<line x1="468.83394926204636" y1="750.3" x2="468.83394926204636" y2="752.3" stroke="#111" stroke-width="1.0"/>
<line x1="470.93607845644766" y1="750.3" x2="470.93607845644766" y2="752.3" stroke="#111" stroke-width="1.0"/>
<line x1="472.757025591547" y1="750.3" x2="472.757025591547" y2="752.3" stroke="#111" stroke-width="1.0"/>
<line x1="474.3632147963948" y1="750.3" x2="474.3632147963948" y2="752.3" stroke="#111" stroke-width="1.0"/>
<line x1="476" y1="750.3" x2="476" y2="754" stroke="#111" stroke-width="1.2"/>
<line x1="485.452341863849" y1="750.3" x2="485.452341863849" y2="752.3" stroke="#111" stroke-width="1.0"/>
<line x1="490.9816073981974" y1="750.3" x2="490.9816073981974" y2="752.3" stroke="#111" stroke-width="1.0"/>
<line x1="494.904683727698" y1="750.3" x2="494.904683727698" y2="752.3" stroke="#111" stroke-width="1.0"/>
<line x1="497.947658136151" y1="750.3" x2="497.947658136151" y2="752.3" stroke="#111" stroke-width="1.0"/>
<line x1="500.4339492620464" y1="750.3" x2="500.4339492620464" y2="752.3" stroke="#111" stroke-width="1.0"/>
<line x1="502.5360784564477" y1="750.3" x2="502.5360784564477" y2="752.3" stroke="#111" stroke-width="1.0"/>
<line x1="504.357025591547" y1="750.3" x2="504.357025591547" y2="752.3" stroke="#111" stroke-width="1.0"/>
<line x1="505.9632147963948" y1="750.3" x2="505.9632147963948" y2="752.3" stroke="#111" stroke-width="1.0"/>
<line x1="508" y1="750.3" x2="508" y2="754" stroke="#111" stroke-width="1.2"/>
<polygon points="261.5,712 260.6,700 261.2,688.5 261.8,668.5 262.6,660 263.3,658.6 264.6,663 266.2,664.5 267.3,658.2 268.2,668 269.5,680.8 270.6,694.6 271.6,704 270.5,712 268,706 266.5,716 264.5,705 263,718" fill="#aa0c33"/>
<line x1="264.1" y1="682" x2="264.1" y2="703" stroke="#e87a92" stroke-width="0.8"/>
<line x1="266.3" y1="672" x2="266.3" y2="703" stroke="#e87a92" stroke-width="0.8"/>
<polyline points="244.00,750.00 244.45,749.92 244.90,749.91 245.35,749.58 245.80,749.30 246.25,749.42 246.70,749.43 247.15,749.49 247.60,748.78 248.05,748.62 248.50,749.08 248.95,748.91 249.40,749.15 249.85,748.87 250.30,747.96 250.75,747.12 251.20,747.84 251.65,745.57 252.10,744.49 252.55,743.47 253.00,743.55 253.45,742.83 253.90,741.70 254.35,741.17 254.80,740.15 255.25,738.56 255.70,737.02 256.15,734.09 256.60,729.70 257.05,730.70 257.50,725.92 257.95,724.63 258.40,719.01 258.85,717.58 259.30,712.62 259.75,709.25 260.20,707.43 260.65,694.94 261.10,691.52 261.55,673.66 262.00,665.64 262.45,663.34 262.90,659.15 263.35,659.76 263.80,660.57 264.25,659.17 264.70,664.57 265.15,661.40 265.60,668.80 266.05,663.05 266.50,664.58 266.95,660.21 267.40,661.83 267.85,662.63 268.30,671.50 268.75,673.11 269.20,680.85 269.65,684.12 270.10,688.64 270.55,692.34 271.00,699.23 271.45,702.05 271.90,707.68 272.35,707.36 272.80,712.46 273.25,715.55 273.70,718.35 274.15,721.42 274.60,724.57 275.05,726.72 275.50,729.09 275.95,731.44 276.40,734.16 276.85,736.69 277.30,737.62 277.75,739.20 278.20,740.45 278.65,741.64 279.10,741.97 279.55,743.18 280.00,744.65 280.45,743.91 280.90,744.47 281.35,746.82 281.80,746.58 282.25,747.67 282.70,748.33 283.15,748.16 283.60,749.46 284.05,749.36 284.50,749.00 284.95,749.29 285.40,749.25 285.85,749.16 286.30,749.47 286.75,749.69 287.20,749.91 287.65,749.96" fill="none" stroke="#aa0c33" stroke-width="1.7" stroke-linejoin="miter" stroke-opacity="1"/>
<polyline points="248.00,750.00 248.45,750.00 248.90,749.77 249.35,749.95 249.80,749.97 250.25,749.62 250.70,749.19 251.15,749.33 251.60,749.57 252.05,749.60 252.50,749.87 252.95,748.99 253.40,749.26 253.85,749.37 254.30,748.39 254.75,746.40 255.20,747.69 255.65,748.22 256.10,746.64 256.55,744.36 257.00,744.12 257.45,744.06 257.90,745.78 258.35,743.20 258.80,741.21 259.25,741.27 259.70,737.26 260.15,738.37 260.60,732.58 261.05,731.04 261.50,731.29 261.95,730.57 262.40,727.06 262.85,724.28 263.30,717.66 263.75,717.86 264.20,716.43 264.65,715.03 265.10,716.11 265.55,712.35 266.00,713.56 266.45,710.26 266.90,707.64 267.35,706.61 267.80,705.26 268.25,704.27 268.70,698.33 269.15,697.46 269.60,692.77 270.05,700.12 270.50,698.35 270.95,693.09 271.40,691.81 271.85,689.14 272.30,693.02 272.75,693.29 273.20,699.43 273.65,693.74 274.10,690.82 274.55,685.97 275.00,697.74 275.45,695.19 275.90,691.01 276.35,697.40 276.80,693.36 277.25,709.17 277.70,704.62 278.15,705.31 278.60,705.20 279.05,701.96 279.50,709.09 279.95,707.42 280.40,714.20 280.85,709.01 281.30,713.40 281.75,719.73 282.20,722.02 282.65,717.11 283.10,717.79 283.55,724.23 284.00,725.43 284.45,722.99 284.90,724.91 285.35,726.24 285.80,726.66 286.25,728.91 286.70,733.38 287.15,733.46 287.60,736.74 288.05,734.34 288.50,735.36 288.95,735.22 289.40,737.57 289.85,737.08 290.30,737.48 290.75,741.44 291.20,743.11 291.65,743.19 292.10,744.49 292.55,744.17 293.00,744.10 293.45,745.66 293.90,746.14 294.35,746.52 294.80,747.15 295.25,748.31 295.70,749.25 296.15,749.38 296.60,749.26 297.05,749.90 297.50,749.61 297.95,749.78 298.40,749.98 298.85,749.65 299.30,749.60 299.75,750.00" fill="none" stroke="#2d4a82" stroke-width="1.9" stroke-linejoin="miter" stroke-opacity="1"/>
<polyline points="261.00,750.00 261.45,750.00 261.90,749.90 262.35,749.93 262.80,749.84 263.25,749.29 263.70,749.72 264.15,749.37 264.60,749.28 265.05,749.27 265.50,749.50 265.95,749.47 266.40,749.10 266.85,747.02 267.30,746.45 267.75,744.31 268.20,744.71 268.65,744.23 269.10,742.17 269.55,742.01 270.00,741.01 270.45,740.17 270.90,736.69 271.35,735.01 271.80,733.41 272.25,734.89 272.70,732.50 273.15,729.16 273.60,727.62 274.05,725.45 274.50,723.57 274.95,720.89 275.40,718.64 275.85,715.55 276.30,715.07 276.75,717.62 277.20,714.15 277.65,711.79 278.10,708.95 278.55,707.08 279.00,705.26 279.45,700.80 279.90,700.15 280.35,699.14 280.80,696.26 281.25,695.41 281.70,694.20 282.15,693.30 282.60,696.95 283.05,689.03 283.50,693.06 283.95,691.62 284.40,691.53 284.85,695.12 285.30,699.33 285.75,699.00 286.20,700.50 286.65,700.68 287.10,702.85 287.55,706.12 288.00,704.63 288.45,704.31 288.90,705.26 289.35,706.66 289.80,707.03 290.25,712.64 290.70,712.11 291.15,711.90 291.60,715.88 292.05,712.93 292.50,716.53 292.95,717.92 293.40,715.23 293.85,716.61 294.30,719.03 294.75,723.31 295.20,725.22 295.65,722.68 296.10,727.42 296.55,726.66 297.00,728.00 297.45,729.14 297.90,730.80 298.35,730.28 298.80,732.40 299.25,733.09 299.70,736.04 300.15,738.72 300.60,740.26 301.05,737.92 301.50,737.50 301.95,739.75 302.40,740.22 302.85,743.67 303.30,743.20 303.75,742.84 304.20,744.75 304.65,745.09 305.10,744.34 305.55,745.73 306.00,746.57 306.45,747.37 306.90,748.08 307.35,748.57 307.80,749.27 308.25,749.13 308.70,749.13 309.15,749.77 309.60,749.56 310.05,749.64 310.50,749.33 310.95,749.66 311.40,749.88 311.85,749.67 312.30,750.00 312.75,749.94" fill="none" stroke="#67aa40" stroke-width="1.8" stroke-linejoin="miter" stroke-opacity="1"/>
<polyline points="390.00,750.00 390.45,749.67 390.90,749.48 391.35,749.61 391.80,748.60 392.25,749.36 392.70,747.73 393.15,747.29 393.60,748.10 394.05,746.51 394.50,746.71 394.95,747.44 395.40,747.43 395.85,744.52 396.30,746.27 396.75,747.30 397.20,746.38 397.65,744.14 398.10,741.86 398.55,740.40 399.00,737.28 399.45,736.77 399.90,735.08 400.35,733.33 400.80,734.07 401.25,729.54 401.70,725.14 402.15,728.70 402.60,721.89 403.05,720.26 403.50,717.99 403.95,714.42 404.40,709.56 404.85,708.62 405.30,712.83 405.75,701.47 406.20,699.90 406.65,701.26 407.10,697.39 407.55,694.81 408.00,692.52 408.45,679.76 408.90,680.94 409.35,681.88 409.80,680.60 410.25,681.45 410.70,676.42 411.15,671.77 411.60,670.99 412.05,668.10 412.50,668.10 412.95,668.00 413.40,661.85 413.85,657.88 414.30,655.72 414.75,662.19 415.20,661.10 415.65,661.08 416.10,661.74 416.55,662.89 417.00,660.58 417.45,664.66 417.90,660.45 418.35,667.17 418.80,668.25 419.25,677.13 419.70,674.63 420.15,679.02 420.60,683.49 421.05,689.50 421.50,684.32 421.95,686.43 422.40,695.08 422.85,691.16 423.30,698.90 423.75,698.19 424.20,701.92 424.65,698.97 425.10,708.86 425.55,707.56 426.00,708.73 426.45,719.15 426.90,717.62 427.35,726.93 427.80,721.25 428.25,721.68 428.70,724.99 429.15,730.10 429.60,728.34 430.05,731.10 430.50,732.99 430.95,732.15 431.40,735.82 431.85,736.60 432.30,737.36 432.75,742.18 433.20,743.60 433.65,744.68 434.10,744.54 434.55,744.12 435.00,746.88 435.45,746.92 435.90,746.34 436.35,748.02 436.80,747.77 437.25,749.11 437.70,749.69" fill="none" stroke="#aa0c33" stroke-width="1.8" stroke-linejoin="miter" stroke-opacity="1"/>
<polyline points="395.00,750.00 395.45,749.79 395.90,749.53 396.35,748.63 396.80,748.70 397.25,748.32 397.70,748.22 398.15,748.31 398.60,748.34 399.05,748.97 399.50,744.98 399.95,747.41 400.40,746.56 400.85,748.84 401.30,747.08 401.75,742.27 402.20,743.36 402.65,740.26 403.10,741.24 403.55,735.79 404.00,735.96 404.45,734.23 404.90,732.65 405.35,729.52 405.80,724.26 406.25,728.09 406.70,727.61 407.15,722.63 407.60,717.78 408.05,719.40 408.50,718.54 408.95,714.15 409.40,712.65 409.85,715.53 410.30,704.71 410.75,704.65 411.20,697.61 411.65,700.02 412.10,697.81 412.55,694.88 413.00,693.88 413.45,702.02 413.90,691.85 414.35,690.18 414.80,698.34 415.25,686.95 415.70,677.89 416.15,685.67 416.60,677.96 417.05,688.04 417.50,673.08 417.95,674.46 418.40,668.67 418.85,675.87 419.30,669.71 419.75,673.40 420.20,671.05 420.65,669.05 421.10,675.79 421.55,676.67 422.00,673.87 422.45,670.73 422.90,671.42 423.35,679.17 423.80,690.41 424.25,679.17 424.70,679.98 425.15,682.68 425.60,683.26 426.05,686.12 426.50,691.64 426.95,700.61 427.40,696.81 427.85,696.85 428.30,694.69 428.75,703.76 429.20,704.90 429.65,702.62 430.10,705.27 430.55,710.99 431.00,716.56 431.45,717.26 431.90,717.92 432.35,718.33 432.80,722.00 433.25,722.59 433.70,730.27 434.15,722.71 434.60,726.39 435.05,732.13 435.50,729.85 435.95,735.39 436.40,733.55 436.85,735.53 437.30,736.06 437.75,735.46 438.20,737.37 438.65,744.00 439.10,742.28 439.55,743.21 440.00,744.69 440.45,745.13 440.90,746.63 441.35,746.05 441.80,746.46 442.25,747.97 442.70,747.08 443.15,746.65 443.60,747.93 444.05,748.09 444.50,749.18 444.95,748.81 445.40,749.12 445.85,749.82" fill="none" stroke="#2d4a82" stroke-width="1.9" stroke-linejoin="miter" stroke-opacity="1"/>
<polyline points="410.00,750.00 410.45,749.09 410.90,748.25 411.35,747.30 411.80,746.52 412.25,745.93 412.70,745.31 413.15,742.79 413.60,743.60 414.05,741.90 414.50,740.79 414.95,741.76 415.40,739.08 415.85,739.76 416.30,738.03 416.75,734.29 417.20,733.51 417.65,731.67 418.10,728.74 418.55,724.30 419.00,724.29 419.45,722.35 419.90,719.14 420.35,720.63 420.80,715.95 421.25,713.65 421.70,711.66 422.15,708.88 422.60,706.76 423.05,705.90 423.50,704.14 423.95,701.04 424.40,700.14 424.85,696.56 425.30,698.05 425.75,694.46 426.20,694.49 426.65,691.09 427.10,690.20 427.55,689.90 428.00,685.90 428.45,691.73 428.90,686.81 429.35,686.18 429.80,684.45 430.25,688.27 430.70,687.81 431.15,685.80 431.60,682.76 432.05,684.20 432.50,686.09 432.95,684.36 433.40,683.45 433.85,683.72 434.30,684.72 434.75,686.37 435.20,685.65 435.65,687.44 436.10,692.88 436.55,691.72 437.00,687.52 437.45,690.52 437.90,691.21 438.35,692.04 438.80,695.19 439.25,694.12 439.70,695.34 440.15,696.47 440.60,698.11 441.05,701.48 441.50,702.20 441.95,700.77 442.40,703.95 442.85,705.24 443.30,709.36 443.75,710.31 444.20,713.01 444.65,713.52 445.10,712.93 445.55,717.77 446.00,719.28 446.45,721.40 446.90,721.10 447.35,724.49 447.80,725.46 448.25,727.29 448.70,730.15 449.15,731.64 449.60,731.95 450.05,732.73 450.50,733.63 450.95,736.70 451.40,739.45 451.85,740.04 452.30,740.10 452.75,742.50 453.20,744.68 453.65,746.67 454.10,747.04 454.55,747.10 455.00,747.42 455.45,747.40 455.90,748.01 456.35,748.46 456.80,748.77 457.25,749.35 457.70,749.69" fill="none" stroke="#67aa40" stroke-width="1.5" stroke-linejoin="miter" stroke-opacity="1"/>
</svg>
</body></html>
